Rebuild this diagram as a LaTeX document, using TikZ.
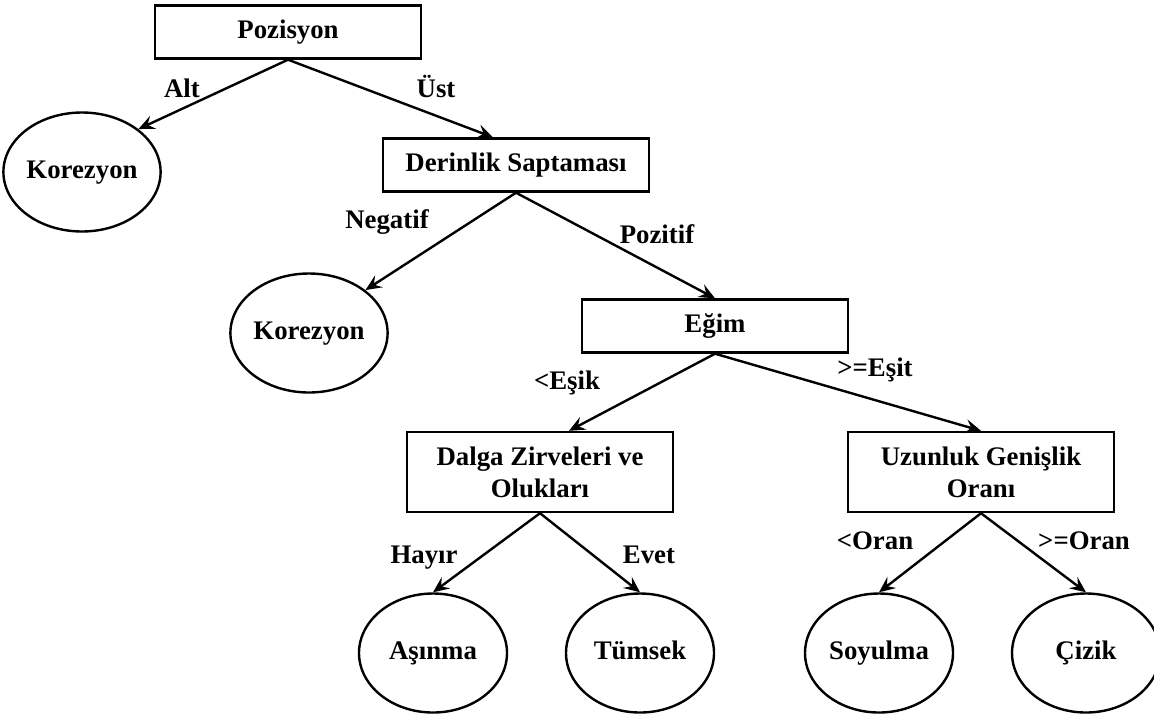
\documentclass[tikz,border=0pt]{standalone}
\usepackage{fontspec}
\setmainfont{Liberation Serif}
\usetikzlibrary{arrows.meta,shapes.geometric}

\begin{document}
\begin{tikzpicture}[x=0.5pt,y=-0.5pt,
    >={Stealth[length=8pt,width=7pt,inset=3pt]},
    font=\fontsize{13.4}{16}\selectfont\bfseries,
    test/.style={draw,line width=1.2pt,minimum width=133pt,minimum height=26.5pt,
      inner sep=2pt,align=center},
    leaf/.style={draw,line width=1.2pt,ellipse,minimum width=74pt,
      minimum height=59.5pt,inner sep=0pt,text height=9pt,text depth=3pt},
    edge/.style={->,line width=1.2pt},
    cond/.style={anchor=base,inner sep=0pt}]
  \useasboundingbox (0,0) rectangle (1154,718);

  % tests
  \node[test,text height=9pt,text depth=3pt] (poz) at (288,32) {Pozisyon};
  \node[test,text height=9pt,text depth=3pt] (der) at (516,165)
    {Derinlik Saptaması};
  \node[test,text height=9pt,text depth=3pt] (egim) at (715,326) {Eğim};
  \node[test,minimum height=40pt] (dalga) at (540,472)
    {Dalga Zirveleri ve\\Olukları};
  \node[test,minimum height=40pt] (uzun) at (981,472)
    {Uzunluk Genişlik\\Oranı};

  % classes
  \node[leaf] (kor1) at (82,172) {Korezyon};
  \node[leaf] (kor2) at (309,333) {Korezyon};
  \node[leaf] (asin) at (433,653) {Aşınma};
  \node[leaf] (tums) at (640,653) {Tümsek};
  \node[leaf] (soyu) at (879,653) {Soyulma};
  \node[leaf] (cizk) at (1086,653) {Çizik};

  \draw[edge] (poz.south) -- (kor1.north east);
  \draw[edge] (poz.south) -- ([xshift=-11.5pt]der.north);
  \draw[edge] (der.south) -- (kor2.north east);
  \draw[edge] (der.south) -- (egim.north);
  \draw[edge] (egim.south) -- ([xshift=14.5pt]dalga.north);
  \draw[edge] (egim.south) -- (uzun.north);
  \draw[edge] (dalga.south) -- (asin.north);
  \draw[edge] (dalga.south) -- (tums.north);
  \draw[edge] (uzun.south) -- (soyu.north);
  \draw[edge] (uzun.south) -- (cizk.north);

  % branch labels
  \node[cond] (lalt) at (182,97) {Alt};
  \node[cond] (lust) at (436,97) {Üst};
  \node[cond] (lneg) at (387,228) {Negatif};
  \node[cond] (lpoz) at (657,243) {Pozitif};
  \node[cond] (lesk) at (567,389) {<Eşik};
  \node[cond] (lest) at (875,376) {>=Eşit};
  \node[cond] (lhay) at (424,563) {Hayır};
  \node[cond] (levt) at (649,563) {Evet};
  \node[cond] (lork) at (875,549) {<Oran};
  \node[cond] (lorb) at (1084,549) {>=Oran};
\end{tikzpicture}
\end{document}
